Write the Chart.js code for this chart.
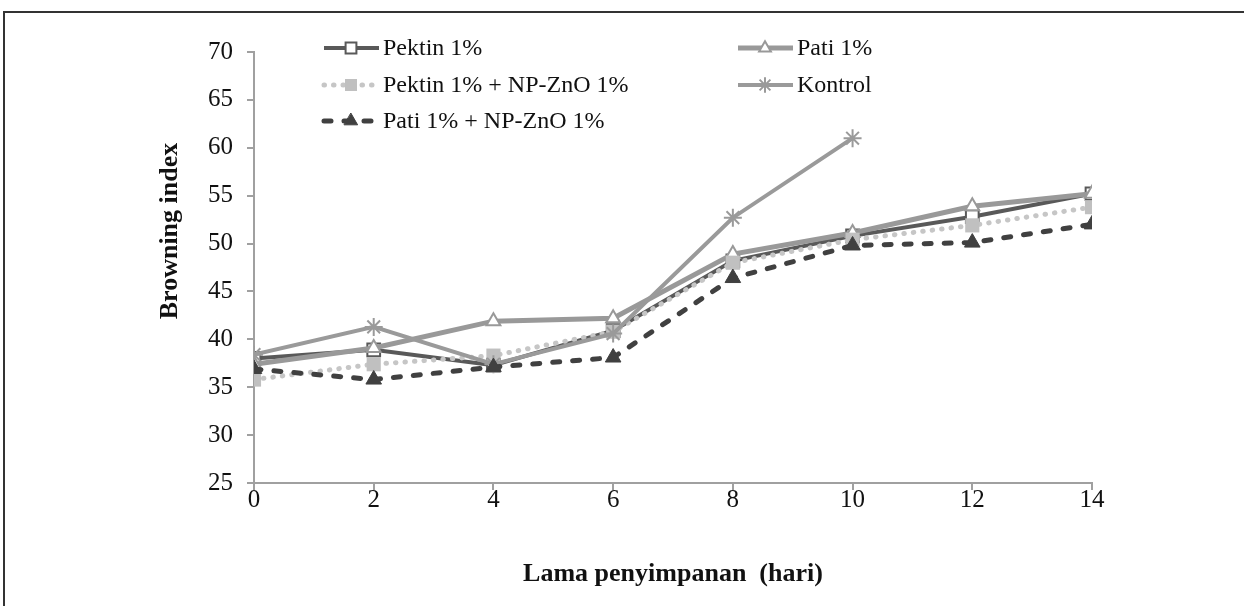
<!DOCTYPE html>
<html lang="id">
<head>
    <meta charset="UTF-8">
    <title>Browning index - Lama penyimpanan</title>
    <style>
        html, body { margin: 0; padding: 0; background: #fff; }
        .frame { position: absolute; left: 3px; top: 11px; right: 0; bottom: 0; border-top: 2px solid #333; border-left: 2px solid #333; }
        .chart-box { position: absolute; left: 0; top: 0; width: 1244px; height: 606px; }
    </style>
</head>
<body>
    <div class="frame"></div>
    <div class="chart-box">
        <canvas id="browningChart" width="1244" height="606"></canvas>
    </div>

    <script src="https://cdn.jsdelivr.net/npm/chart.js"></script>
    <script>
        // data
        const days = [0, 2, 4, 6, 8, 10, 12, 14];
        const pektin = [38.0, 38.9, 37.3, 40.9, 48.2, 50.8, 52.8, 55.2];
        const pati = [37.4, 39.1, 41.9, 42.2, 48.9, 51.1, 53.9, 55.2];
        const pektinZno = [35.8, 37.4, 38.3, 40.8, 48.0, 50.4, 51.9, 53.8];
        const kontrol = [38.4, 41.3, 37.4, 40.6, 52.7, 61.0];
        const patiZno = [36.9, 35.8, 37.1, 38.1, 46.4, 49.8, 50.1, 52.0];
        const seriesNames = ['Pektin 1%', 'Pati 1%', 'Pektin 1% + NP-ZnO 1%', 'Kontrol', 'Pati 1% + NP-ZnO 1%'];
        const yMin = 25, yMax = 70, yStep = 5;
        const xMin = 0, xMax = 14, xStep = 2;

        const serif = "'Times New Roman', 'Liberation Serif', serif";

        function pts(values) {
            return values.map((v, i) => ({ x: days[i], y: v }));
        }

        const datasets = [
            {
                label: seriesNames[0], data: pts(pektin),
                borderColor: '#595959', borderWidth: 4,
                pointStyle: 'rect', pointRadius: 9, pointBorderWidth: 2,
                pointBorderColor: '#595959', pointBackgroundColor: '#fff',
                order: 5
            },
            {
                label: seriesNames[1], data: pts(pati),
                borderColor: '#999999', borderWidth: 5,
                pointStyle: 'triangle', pointRadius: 8, pointBorderWidth: 2,
                pointBorderColor: '#999999', pointBackgroundColor: '#fff',
                order: 4
            },
            {
                label: seriesNames[2], data: pts(pektinZno),
                borderColor: '#c6c6c6', borderWidth: 5,
                borderDash: [0.5, 9], borderCapStyle: 'round',
                pointStyle: 'rect', pointRadius: 10, pointBorderWidth: 0,
                pointBorderColor: '#c0c0c0', pointBackgroundColor: '#c0c0c0',
                order: 3
            },
            {
                label: seriesNames[3], data: pts(kontrol),
                borderColor: '#9a9a9a', borderWidth: 4,
                pointStyle: 'star', pointRadius: 9, pointBorderWidth: 2,
                pointBorderColor: '#9a9a9a', pointBackgroundColor: '#9a9a9a',
                order: 2
            },
            {
                label: seriesNames[4], data: pts(patiZno),
                borderColor: '#404040', borderWidth: 5,
                borderDash: [7, 13], borderCapStyle: 'round',
                pointStyle: 'triangle', pointRadius: 9, pointBorderWidth: 1,
                pointBorderColor: '#404040', pointBackgroundColor: '#404040',
                order: 1
            }
        ];

        // legend laid out in two columns like the original
        const legendSlots = [
            { ds: 0, x: 324, y: 48 },
            { ds: 1, x: 738, y: 48 },
            { ds: 2, x: 324, y: 85 },
            { ds: 3, x: 738, y: 85 },
            { ds: 4, x: 324, y: 121 }
        ];

        const sideLegend = {
            id: 'sideLegend',
            afterDraw(chart) {
                const ctx = chart.ctx;
                legendSlots.forEach(slot => {
                    const ds = chart.data.datasets[slot.ds];
                    ctx.save();
                    ctx.strokeStyle = ds.borderColor;
                    ctx.lineWidth = ds.borderWidth;
                    ctx.lineCap = ds.borderCapStyle || 'butt';
                    ctx.setLineDash(ds.borderDash || []);
                    ctx.beginPath();
                    ctx.moveTo(slot.x, slot.y);
                    ctx.lineTo(slot.x + 55, slot.y);
                    ctx.stroke();
                    ctx.setLineDash([]);
                    ctx.fillStyle = ds.pointBackgroundColor;
                    ctx.strokeStyle = ds.pointBorderColor;
                    ctx.lineWidth = ds.pointBorderWidth;
                    Chart.helpers.drawPoint(ctx, {
                        pointStyle: ds.pointStyle,
                        radius: ds.pointRadius * 0.85,
                        rotation: 0,
                        borderWidth: ds.pointBorderWidth
                    }, slot.x + 27, slot.y);
                    ctx.fillStyle = '#111';
                    ctx.font = '24px ' + serif;
                    ctx.textBaseline = 'middle';
                    ctx.textAlign = 'left';
                    ctx.fillText(ds.label, slot.x + 59, slot.y + 1);
                    ctx.restore();
                });

                // y axis title
                ctx.save();
                ctx.translate(170, 231);
                ctx.rotate(-Math.PI / 2);
                ctx.fillStyle = '#111';
                ctx.font = 'bold 26px ' + serif;
                ctx.textAlign = 'center';
                ctx.textBaseline = 'middle';
                ctx.fillText('Browning index', 0, 0);
                ctx.restore();
            }
        };

        const ctxLine = document.getElementById('browningChart').getContext('2d');
        const browningChart = new Chart(ctxLine, {
            type: 'line',
            data: { datasets: datasets },
            options: {
                responsive: false,
                animation: false,
                layout: { padding: { top: 52, right: 152, left: 0, bottom: 0 } },
                plugins: {
                    legend: { display: false },
                    tooltip: { enabled: false }
                },
                scales: {
                    x: {
                        type: 'linear',
                        min: xMin, max: xMax,
                        afterFit: scale => { scale.height = 123; },
                        ticks: {
                            stepSize: xStep, padding: -5,
                            color: '#111', font: { family: serif, size: 25 }
                        },
                        grid: { drawOnChartArea: false, tickLength: 7, color: '#a0a0a0', lineWidth: 2 },
                        border: { color: '#a0a0a0', width: 2 },
                        title: {
                            display: true, text: 'Lama penyimpanan  (hari)',
                            color: '#111', font: { family: serif, size: 26, weight: 'bold' },
                            padding: { top: 0, bottom: 16 }
                        }
                    },
                    y: {
                        min: yMin, max: yMax,
                        afterFit: scale => { scale.width = 254; },
                        ticks: {
                            stepSize: yStep, padding: 14,
                            color: '#111', font: { family: serif, size: 25 }
                        },
                        grid: { drawOnChartArea: false, tickLength: 7, color: '#a0a0a0', lineWidth: 2 },
                        border: { color: '#a0a0a0', width: 2 }
                    }
                }
            },
            plugins: [sideLegend]
        });
    </script>
</body>
</html>
